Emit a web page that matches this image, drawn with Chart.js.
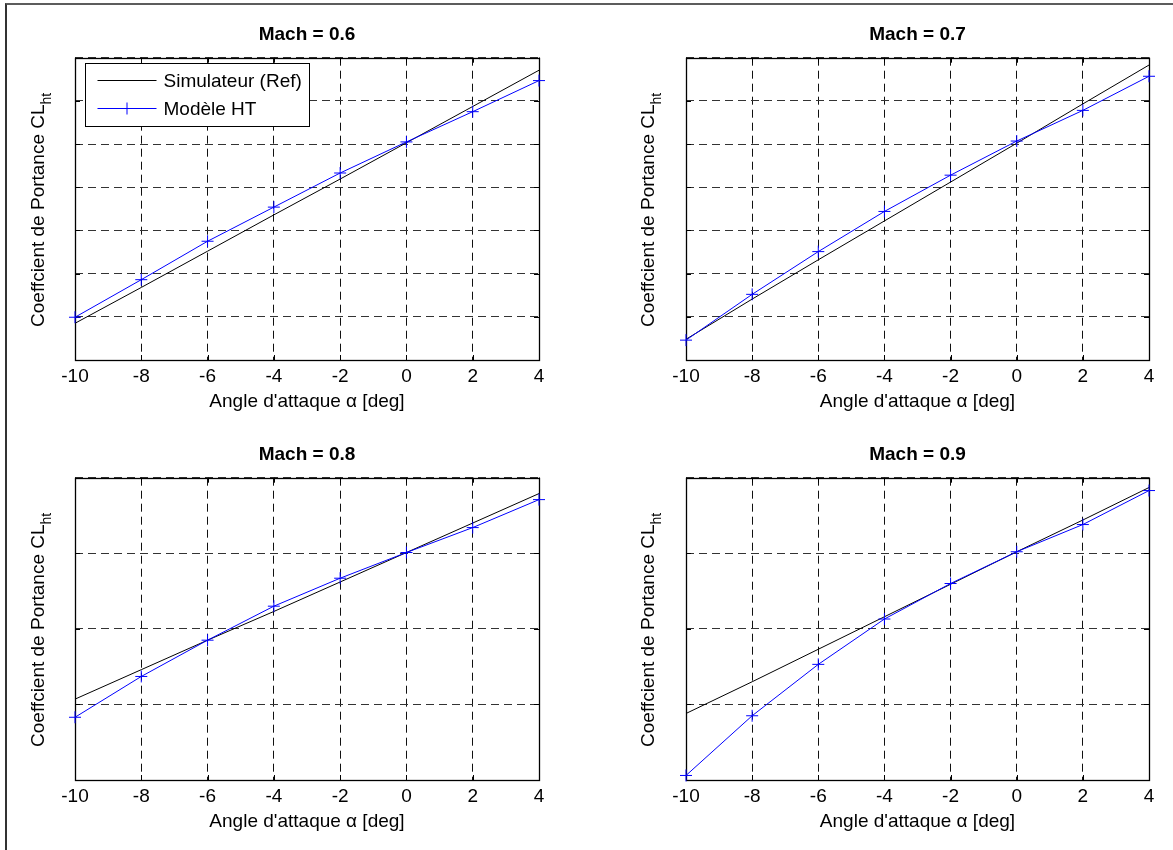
<!DOCTYPE html>
<html>
<head>
<meta charset="utf-8">
<script src="https://cdn.jsdelivr.net/npm/chart.js@4.4.1/dist/chart.umd.min.js"></script>
<style>
  html, body { margin: 0; padding: 0; background: #fff; }
  #page { position: relative; width: 1173px; height: 850px; overflow: hidden; background: #fff; }
  #frame { position: absolute; left: 5px; top: 3px; right: 0; bottom: 0; border-top: 2px solid #5c5c5c; border-left: 2px solid #333; }
  .panel { position: absolute; }
</style>
</head>
<body>
<div id="page">
  <div id="frame"></div>
  <div class="panel" style="left:0;top:0"><canvas id="m06" width="586" height="425"></canvas></div>
  <div class="panel" style="left:586px;top:0"><canvas id="m07" width="587" height="425"></canvas></div>
  <div class="panel" style="left:0;top:420px"><canvas id="m08" width="586" height="425"></canvas></div>
  <div class="panel" style="left:586px;top:420px"><canvas id="m09" width="587" height="425"></canvas></div>
</div>
<script>
// angle of attack (deg) and lift coefficient curves, per Mach number
const alpha = [-10, -8, -6, -4, -2, 0, 2, 4];

const refM06 = [0.85, 1.68, 2.52, 3.36, 4.19, 5.03, 5.87, 6.71];
const htM06  = [0.99, 1.86, 2.75, 3.54, 4.33, 5.05, 5.75, 6.47];

const refM07 = [0.48, 1.41, 2.32, 3.22, 4.12, 5.02, 5.93, 6.83];
const htM07  = [0.46, 1.52, 2.51, 3.44, 4.28, 5.07, 5.78, 6.57];

const refM08 = [1.07, 1.46, 1.85, 2.23, 2.62, 3.01, 3.40, 3.79];
const htM08  = [0.83, 1.37, 1.85, 2.30, 2.67, 3.01, 3.34, 3.71];

const refM09 = [0.88, 1.30, 1.73, 2.16, 2.59, 3.02, 3.44, 3.87];
const htM09  = [0.06, 0.85, 1.53, 2.13, 2.60, 3.02, 3.38, 3.83];

const seriesNames = ['Simulateur (Ref)', 'Modèle HT'];
const xLabel = "Angle d'attaque \u03B1 [deg]";
const yLabel = 'Coeffcient de Portance CL';
const ySub = 'ht';

const FONT = "'Liberation Sans', Arial, Helvetica, sans-serif";
Chart.defaults.font.family = FONT;
Chart.defaults.color = '#000';

const pts = vals => alpha.map((a, i) => ({ x: a, y: vals[i] }));

// solid box around the axes, with short inward ticks on every side
const axesBox = {
  id: 'axesBox',
  beforeDatasetsDraw(chart) {
    const { ctx, chartArea: a, scales } = chart;
    const tl = 5;
    ctx.save();
    ctx.strokeStyle = '#000';
    ctx.lineWidth = 1;
    ctx.beginPath();
    scales.x.ticks.forEach(t => {
      const px = Math.round(scales.x.getPixelForValue(t.value)) + 0.5;
      ctx.moveTo(px, a.bottom); ctx.lineTo(px, a.bottom - tl);
      ctx.moveTo(px, a.top); ctx.lineTo(px, a.top + tl);
    });
    scales.y.ticks.forEach(t => {
      const py = Math.round(scales.y.getPixelForValue(t.value)) + 0.5;
      ctx.moveTo(a.left, py); ctx.lineTo(a.left + tl, py);
      ctx.moveTo(a.right, py); ctx.lineTo(a.right - tl, py);
    });
    ctx.stroke();
    ctx.lineWidth = 1.3;
    ctx.strokeRect(Math.round(a.left) + 0.5, Math.round(a.top) + 0.5,
                   Math.round(a.right - a.left), Math.round(a.bottom - a.top));
    ctx.restore();
  }
};

// rotated y title with the "ht" subscript
const yTitle = {
  id: 'yTitle',
  afterDraw(chart, args, opts) {
    const { ctx, chartArea: a } = chart;
    ctx.save();
    ctx.translate(opts.x, (a.top + a.bottom) / 2 + 1);
    ctx.rotate(-Math.PI / 2);
    ctx.fillStyle = '#000';
    ctx.textBaseline = 'middle';
    ctx.font = '19px ' + FONT;
    const wMain = ctx.measureText(yLabel).width;
    ctx.font = '14px ' + FONT;
    const wSub = ctx.measureText(ySub).width;
    const x0 = -(wMain + wSub) / 2;
    ctx.font = '19px ' + FONT;
    ctx.fillText(yLabel, x0, 0);
    ctx.font = '14px ' + FONT;
    ctx.fillText(ySub, x0 + wMain, 8);
    ctx.restore();
  }
};

// boxed legend in the upper left corner of the axes
const boxLegend = {
  id: 'boxLegend',
  afterDatasetsDraw(chart, args, opts) {
    if (!opts.show) return;
    const { ctx, chartArea: a } = chart;
    const x0 = Math.round(a.left + 10) + 0.5, y0 = Math.round(a.top + 5) + 0.5;
    const w = 224, h = 63;
    ctx.save();
    ctx.fillStyle = '#fff';
    ctx.fillRect(x0, y0, w, h);
    ctx.strokeStyle = '#000';
    ctx.lineWidth = 1;
    ctx.strokeRect(x0, y0, w, h);
    chart.data.datasets.forEach((ds, i) => {
      const y = y0 + 17 + i * 28;
      ctx.strokeStyle = ds.borderColor;
      ctx.lineWidth = 1;
      ctx.beginPath();
      ctx.moveTo(x0 + 12, y); ctx.lineTo(x0 + 71, y);
      if (ds.pointRadius > 0) {
        const cx = x0 + 41.5, r = ds.pointRadius;
        ctx.moveTo(cx - r, y); ctx.lineTo(cx + r, y);
        ctx.moveTo(cx, y - r); ctx.lineTo(cx, y + r);
      }
      ctx.stroke();
      ctx.fillStyle = '#000';
      ctx.font = '19px ' + FONT;
      ctx.textBaseline = 'middle';
      ctx.fillText(ds.label, x0 + 78, y + 1);
    });
    ctx.restore();
  }
};

function makePanel(id, title, ref, ht, yMax, yWidth, padRight, yTitleX, showLegend) {
  const gridDash = [8, 5];
  new Chart(document.getElementById(id), {
    type: 'line',
    data: {
      datasets: [
        {
          label: seriesNames[0],
          data: pts(ref),
          borderColor: '#000000',
          borderWidth: 1,
          pointRadius: 0,
          fill: false,
          tension: 0,
          order: 2
        },
        {
          label: seriesNames[1],
          data: pts(ht),
          borderColor: '#0000ff',
          borderWidth: 1,
          pointStyle: 'cross',
          pointRadius: 6,
          pointBorderColor: '#0000ff',
          pointBorderWidth: 1,
          fill: false,
          tension: 0,
          clip: false,
          order: 1
        }
      ]
    },
    options: {
      responsive: false,
      animation: false,
      events: [],
      layout: { padding: { left: 0, right: padRight, top: 0, bottom: 0 } },
      scales: {
        x: {
          type: 'linear',
          min: -10,
          max: 4,
          ticks: { stepSize: 2, padding: 5, color: '#000', font: { size: 19 } },
          grid: { color: '#111', lineWidth: 1, drawTicks: false },
          border: { display: false, dash: gridDash },
          title: {
            display: true,
            text: xLabel,
            color: '#000',
            font: { size: 19, lineHeight: 1.2 },
            padding: { top: 0, bottom: 12 }
          },
          afterFit(s) { s.height = 65; }
        },
        y: {
          min: 0,
          max: yMax,
          ticks: { display: false, stepSize: 1 },
          grid: { color: '#333', lineWidth: 1, drawTicks: false },
          border: { display: false, dash: gridDash },
          afterFit(s) { s.width = yWidth; }
        }
      },
      plugins: {
        legend: { display: false },
        tooltip: { enabled: false },
        title: {
          display: true,
          text: title,
          fullSize: false,
          color: '#000',
          font: { size: 19, weight: 'bold', lineHeight: 1.2 },
          padding: { top: 23.5, bottom: 11.4 }
        },
        yTitle: { x: yTitleX },
        boxLegend: { show: showLegend }
      }
    },
    plugins: [axesBox, boxLegend, yTitle]
  });
}

makePanel('m06', 'Mach = 0.6', refM06, htM06, 7, 75, 47, 39, true);
makePanel('m07', 'Mach = 0.7', refM07, htM07, 7, 100, 24, 63, false);
makePanel('m08', 'Mach = 0.8', refM08, htM08, 4, 75, 47, 39, false);
makePanel('m09', 'Mach = 0.9', refM09, htM09, 4, 100, 24, 63, false);
</script>
</body>
</html>
